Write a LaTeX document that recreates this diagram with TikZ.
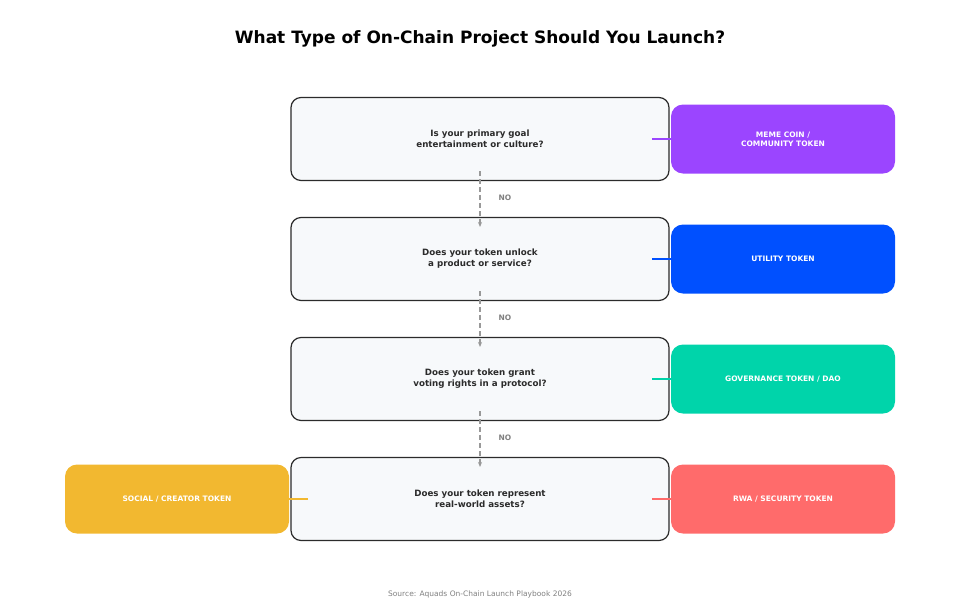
\documentclass[tikz,border=0pt]{standalone}
\usepackage{fontspec}
\setmainfont{DejaVu Sans}
\usetikzlibrary{arrows.meta}
\definecolor{qfill}{HTML}{F7F9FB}
\definecolor{qdraw}{HTML}{2B2B2B}
\definecolor{cmeme}{HTML}{9B45FF}
\definecolor{cutil}{HTML}{0050FF}
\definecolor{cgov}{HTML}{00D4AA}
\definecolor{crwa}{HTML}{FF6B6B}
\definecolor{csoc}{HTML}{F2B830}
\begin{document}
\begin{tikzpicture}[x=1pt,y=-1pt,
  q/.style={draw=qdraw,line width=1.2pt,fill=qfill,rounded corners=10pt,minimum width=378pt,minimum height=83pt,align=center,font=\bfseries\fontsize{8.7}{11}\selectfont,text=qdraw},
  r/.style={fill=#1,rounded corners=12pt,minimum width=224pt,minimum height=69pt,align=center,font=\bfseries\fontsize{7.5}{9}\selectfont,text=white},
  link/.style={line width=1.5pt,draw=#1},
  no/.style={draw=gray!80,dash pattern=on 5pt off 3pt,line width=1.1pt,-{Stealth[length=5pt,width=4pt]}},
  nolab/.style={text=gray,font=\bfseries\fontsize{7.5}{9}\selectfont}]
\useasboundingbox (0,0) rectangle (960,614);
\node[font=\bfseries\fontsize{17}{20}\selectfont] (title) at (480,39) {What Type of On-Chain Project Should You Launch?};
\node[r=cmeme] (r1) at (783,139) {MEME COIN /\\COMMUNITY TOKEN};
\node[r=cutil] (r2) at (783,259) {UTILITY TOKEN};
\node[r=cgov] (r3) at (783,379) {GOVERNANCE TOKEN / DAO};
\node[r=crwa] (r4) at (783,499) {RWA / SECURITY TOKEN};
\node[r=csoc] (r5) at (177,499) {SOCIAL / CREATOR TOKEN};
\node[q] (q1) at (480,139) {Is your primary goal\\entertainment or culture?};
\node[q] (q2) at (480,259) {Does your token unlock\\a product or service?};
\node[q] (q3) at (480,379) {Does your token grant\\voting rights in a protocol?};
\node[q] (q4) at (480,499) {Does your token represent\\real-world assets?};
\coordinate (c1) at (652,139);\coordinate (c2) at (652,259);\coordinate (c3) at (652,379);\coordinate (c4) at (652,499);\coordinate (c5) at (308,499);
\draw[link=cmeme] (c1) -- (r1.west);
\draw[link=cutil] (c2) -- (r2.west);
\draw[link=cgov] (c3) -- (r3.west);
\draw[link=crwa] (c4) -- (r4.west);
\draw[link=csoc] (c5) -- (r5.east);
\coordinate (a1) at (480,171);\coordinate (b1) at (480,227);
\coordinate (a2) at (480,291);\coordinate (b2) at (480,347);
\coordinate (a3) at (480,411);\coordinate (b3) at (480,467);
\draw[no] (a1) -- (b1);\draw[no] (a2) -- (b2);\draw[no] (a3) -- (b3);
\node[nolab] (n1) at (505,198) {NO};
\node[nolab] (n2) at (505,318) {NO};
\node[nolab] (n3) at (505,438) {NO};
\node[text=gray,font=\fontsize{7.5}{9}\selectfont] (src) at (480,594) {Source: Aquads On-Chain Launch Playbook 2026};
\end{tikzpicture}
\end{document}
